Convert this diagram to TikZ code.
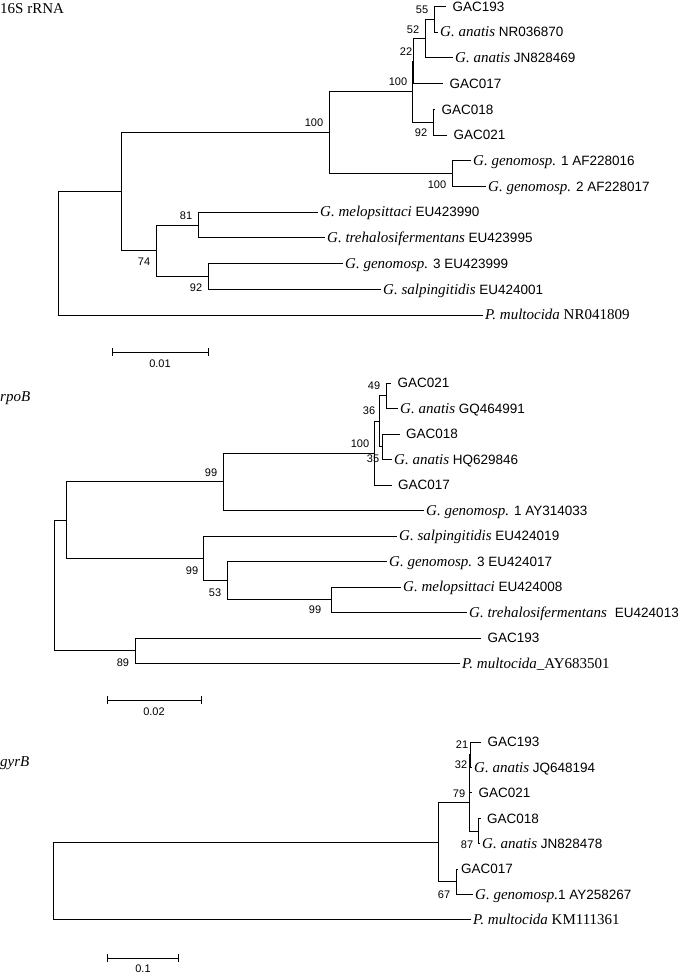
\documentclass[tikz,border=0pt]{standalone}
\usepackage{fontspec}
\setmainfont{Liberation Sans}
\newfontfamily\tnr{Liberation Serif}
\newcommand\spc[1]{{\fontsize{15}{15}\selectfont\tnr\itshape #1}}
\newcommand\tnum[1]{{\fontsize{15}{15}\selectfont\tnr #1}}
\begin{document}
\begin{tikzpicture}[x=1pt,y=-1pt,
  br/.style={draw=black,line width=0.8pt},
  leaf/.style={anchor=west,inner xsep=2pt,inner ysep=0pt,text height=9.6pt,text depth=0pt,font=\fontsize{13.5}{15}\selectfont},
  gleaf/.style={leaf,inner xsep=6.5pt},
  bs/.style={inner sep=0pt,text height=7.9pt,text depth=0pt,font=\fontsize{11}{12}\selectfont},
  ttl/.style={anchor=west,inner sep=0pt,font=\fontsize{15}{16}\selectfont\tnr},
  sbl/.style={inner sep=0pt,text height=7.9pt,text depth=0pt,font=\fontsize{11}{12}\selectfont}]
\useasboundingbox (0,0) rectangle (700,974);

% ===================== 16S rRNA =====================
\node[ttl] (t1) at (0,9) {16S rRNA};
\node[gleaf] (a1) at (446,6.5) {GAC193};
\node[leaf] (a2) at (438,32.2) {\spc{G. anatis} NR036870};
\node[leaf] (a3) at (453,57.9) {\spc{G. anatis} JN828469};
\node[gleaf] (a4) at (443,83.6) {GAC017};
\node[gleaf] (a5) at (435,109.3) {GAC018};
\node[gleaf] (a6) at (447,135) {GAC021};
\node[leaf] (a7) at (471,160.7) {\spc{G. genomosp.} 1 AF228016};
\node[leaf] (a8) at (486,186.4) {\spc{G. genomosp.} 2 AF228017};
\node[leaf] (a9) at (318,212.1) {\spc{G. melopsittaci} EU423990};
\node[leaf] (a10) at (325,237.8) {\spc{G. trehalosifermentans} EU423995};
\node[leaf] (a11) at (343,263.5) {\spc{G. genomosp.} 3 EU423999};
\node[leaf] (a12) at (381,289.2) {\spc{G. salpingitidis} EU424001};
\node[leaf] (a13) at (483,314.9) {\spc{P. multocida} \tnum{NR041809}};

\coordinate (s55) at (434,19.35);
\coordinate (s52) at (425,38.6);
\coordinate (s22) at (413,61.1);
\coordinate (s92) at (433,122.15);
\coordinate (s100a) at (412,91.6);
\coordinate (sgen) at (452,173.55);
\coordinate (s100b) at (329,132.6);
\coordinate (s81) at (198,224.95);
\coordinate (s92b) at (208,276.35);
\coordinate (s74) at (156,250.65);
\coordinate (sA) at (121,191.6);
\coordinate (sroot) at (58,253.25);

\draw[br] (s55) |- (a1.west);  \draw[br] (s55) |- (a2.west);
\draw[br] (s52) |- (s55);      \draw[br] (s52) |- (a3.west);
\draw[br] (s22) |- (s52);      \draw[br] (s22) |- (a4.west);
\draw[br] (s92) |- (a5.west);  \draw[br] (s92) |- (a6.west);
\draw[br] (s100a) |- (s22);    \draw[br] (s100a) |- (s92);
\draw[br] (sgen) |- (a7.west); \draw[br] (sgen) |- (a8.west);
\draw[br] (s100b) |- (s100a);  \draw[br] (s100b) |- (sgen);
\draw[br] (s81) |- (a9.west);  \draw[br] (s81) |- (a10.west);
\draw[br] (s92b) |- (a11.west);\draw[br] (s92b) |- (a12.west);
\draw[br] (s74) |- (s81);      \draw[br] (s74) |- (s92b);
\draw[br] (sA) |- (s100b);     \draw[br] (sA) |- (s74);
\draw[br] (sroot) |- (sA);     \draw[br] (sroot) |- (a13.west);

\node[bs] (sb1) at (422,10) {55};
\node[bs] (sb2) at (413,30) {52};
\node[bs] (sb3) at (406,52) {22};
\node[bs] (sb4) at (398,82) {100};
\node[bs] (sb5) at (421,133) {92};
\node[bs] (sb6) at (437,185) {100};
\node[bs] (sb7) at (314,123) {100};
\node[bs] (sb8) at (186,216) {81};
\node[bs] (sb9) at (144,262) {74};
\node[bs] (sb10) at (196,288) {92};

\coordinate (k1a) at (112,352); \coordinate (k1b) at (208,352);
\draw[br] (k1a) -- (k1b);
\draw[br] ([yshift=4pt]k1a) -- ([yshift=-4pt]k1a);
\draw[br] ([yshift=4pt]k1b) -- ([yshift=-4pt]k1b);
\node[sbl] (k1l) at (160,364) {0.01};

% ===================== rpoB =====================
\node[ttl] (t2) at (0,398) {\itshape rpoB};
\node[gleaf] (b1) at (391,383) {GAC021};
\node[leaf] (b2) at (398,408.5) {\spc{G. anatis} GQ464991};
\node[gleaf] (b3) at (399.5,434) {GAC018};
\node[leaf] (b4) at (392,459.5) {\spc{G. anatis} HQ629846};
\node[gleaf] (b5) at (391.5,485) {GAC017};
\node[leaf] (b6) at (424,510.5) {\spc{G. genomosp.} 1 AY314033};
\node[leaf] (b7) at (397,536) {\spc{G. salpingitidis} EU424019};
\node[leaf] (b8) at (387,561.5) {\spc{G. genomosp.} 3 EU424017};
\node[leaf] (b9) at (401,587) {\spc{G. melopsittaci} EU424008};
\node[leaf] (b10) at (467,612.5) {\spc{G. trehalosifermentans}\hspace{8pt}EU424013};
\node[gleaf] (b11) at (481,638) {GAC193};
\node[leaf] (b12) at (460,663.5) {\spc{P. multocida}\tnum{\_AY683501}};

\coordinate (r49) at (386.5,395.75);
\coordinate (r35) at (382,446.75);
\coordinate (r36) at (379,421.25);
\coordinate (r100) at (374,453.1);
\coordinate (r99a) at (223,481.8);
\coordinate (r99c) at (331.5,599.75);
\coordinate (r53) at (227,580.6);
\coordinate (r99b) at (203,558.3);
\coordinate (rA) at (66,520);
\coordinate (r89) at (135,650.75);
\coordinate (rroot) at (54,585.4);

\draw[br] (r49) |- (b1.west);  \draw[br] (r49) |- (b2.west);
\draw[br] (r35) |- (b3.west);  \draw[br] (r35) |- (b4.west);
\draw[br] (r36) |- (r49);      \draw[br] (r36) |- (r35);
\draw[br] (r100) |- (r36);     \draw[br] (r100) |- (b5.west);
\draw[br] (r99a) |- (r100);    \draw[br] (r99a) |- (b6.west);
\draw[br] (r99c) |- (b9.west); \draw[br] (r99c) |- (b10.west);
\draw[br] (r53) |- (b8.west);  \draw[br] (r53) |- (r99c);
\draw[br] (r99b) |- (b7.west); \draw[br] (r99b) |- (r53);
\draw[br] (rA) |- (r99a);      \draw[br] (rA) |- (r99b);
\draw[br] (r89) |- (b11.west); \draw[br] (r89) |- (b12.west);
\draw[br] (rroot) |- (rA);     \draw[br] (rroot) |- (r89);

\node[bs] (rb1) at (374,386) {49};
\node[bs] (rb2) at (369,411) {36};
\node[bs] (rb3) at (360,444) {100};
\node[bs] (rb4) at (373,459) {35};
\node[bs] (rb5) at (211,473) {99};
\node[bs] (rb6) at (192,571) {99};
\node[bs] (rb7) at (215,593) {53};
\node[bs] (rb8) at (315,610) {99};
\node[bs] (rb9) at (123,663) {89};

\coordinate (k2a) at (107,700); \coordinate (k2b) at (201,700);
\draw[br] (k2a) -- (k2b);
\draw[br] ([yshift=4pt]k2a) -- ([yshift=-4pt]k2a);
\draw[br] ([yshift=4pt]k2b) -- ([yshift=-4pt]k2b);
\node[sbl] (k2l) at (154,712) {0.02};

% ===================== gyrB =====================
\node[ttl] (t3) at (0,763) {\itshape gyrB};
\node[gleaf] (c1) at (481,742) {GAC193};
\node[leaf] (c2) at (472,767.4) {\spc{G. anatis} JQ648194};
\node[gleaf] (c3) at (472,792.8) {GAC021};
\node[gleaf] (c4) at (480.5,818.2) {GAC018};
\node[leaf] (c5) at (480,843.6) {\spc{G. anatis} JN828478};
\node[gleaf,inner xsep=3pt] (c6) at (458,869) {GAC017};
\node[leaf] (c7) at (473,894.4) {\spc{G. genomosp.}1 AY258267};
\node[leaf] (c8) at (471,919.8) {\spc{P. multocida} \tnum{KM111361}};

\coordinate (g21) at (470,754.7);
\coordinate (g32) at (469.5,773.7);
\coordinate (g87) at (478.6,830.9);
\coordinate (g79) at (469,802.3);
\coordinate (g67) at (456,881.7);
\coordinate (gup) at (438,842);
\coordinate (groot) at (53.6,880.9);

\draw[br] (g21) |- (c1.west);  \draw[br] (g21) |- (c2.west);
\draw[br] (g32) |- (g21);      \draw[br] (g32) |- (c3.west);
\draw[br] (g87) |- (c4.west);  \draw[br] (g87) |- (c5.west);
\draw[br] (g79) |- (g32);      \draw[br] (g79) |- (g87);
\draw[br] (g67) |- (c6.west);  \draw[br] (g67) |- (c7.west);
\draw[br] (gup) |- (g79);      \draw[br] (gup) |- (g67);
\draw[br] (groot) |- (gup);    \draw[br] (groot) |- (c8.west);

\node[bs] (gb1) at (462,745) {21};
\node[bs] (gb2) at (461,765) {32};
\node[bs] (gb3) at (459,794) {79};
\node[bs] (gb4) at (467,845) {87};
\node[bs] (gb5) at (444,895) {67};

\coordinate (k3a) at (107,958); \coordinate (k3b) at (178.6,958);
\draw[br] (k3a) -- (k3b);
\draw[br] ([yshift=4pt]k3a) -- ([yshift=-4pt]k3a);
\draw[br] ([yshift=4pt]k3b) -- ([yshift=-4pt]k3b);
\node[sbl] (k3l) at (143,969) {0.1};
\end{tikzpicture}
\end{document}
